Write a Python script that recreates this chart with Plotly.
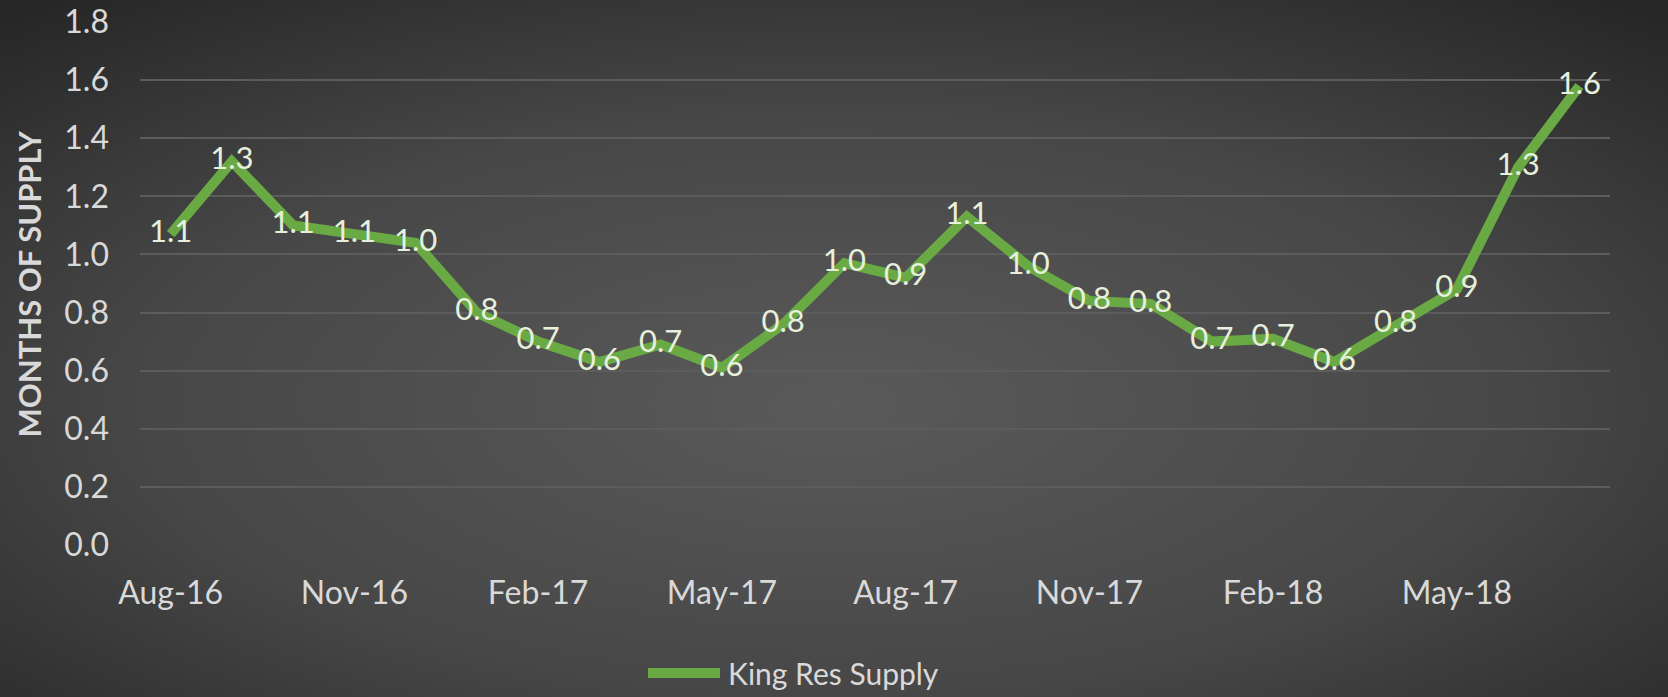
import plotly.graph_objects as go
import base64

months = ["Aug-16","Sep-16","Oct-16","Nov-16","Dec-16","Jan-17","Feb-17","Mar-17","Apr-17",
          "May-17","Jun-17","Jul-17","Aug-17","Sep-17","Oct-17","Nov-17","Dec-17","Jan-18",
          "Feb-18","Mar-18","Apr-18","May-18","Jun-18","Jul-18"]
supply = [1.07,1.32,1.10,1.07,1.04,0.80,0.70,0.63,0.69,0.61,0.76,0.97,0.92,1.13,0.96,
          0.84,0.83,0.70,0.71,0.63,0.76,0.88,1.30,1.58]
labels = [f"{v:.1f}" for v in supply]
tick_labels = months[::3]
series_name = "King Res Supply"

svg = """<svg xmlns='http://www.w3.org/2000/svg' width='1668' height='697'>
<defs><radialGradient id='g' cx='50%' cy='58%' r='75%'>
<stop offset='0%' stop-color='#5a5a5a'/><stop offset='55%' stop-color='#474747'/>
<stop offset='100%' stop-color='#262626'/></radialGradient></defs>
<rect width='1668' height='697' fill='url(#g)'/></svg>"""
bg = "data:image/svg+xml;base64," + base64.b64encode(svg.encode()).decode()

FONT = "Lato"
TXT = "#d9d9d9"
GREEN = "#6aaa45"
PW, PH, L, T = 1470, 523, 140, 22

fig = go.Figure()
fig.add_trace(go.Scatter(
    x=months, y=supply, mode="lines+text", name=series_name,
    line=dict(color=GREEN, width=10),
    text=labels, textposition="middle center",
    textfont=dict(family=FONT, size=31, color="#e6f0dc"),
))

leg_y = (545 - 673) / PH
fig.update_layout(
    width=1668, height=697,
    margin=dict(l=L, r=58, t=T, b=152, autoexpand=False),
    paper_bgcolor="#3c3c3c", plot_bgcolor="rgba(0,0,0,0)",
    images=[dict(source=bg, xref="paper", yref="paper", x=-L/PW, y=1+T/PH,
                 sizex=1668/PW, sizey=697/PH, xanchor="left", yanchor="top",
                 sizing="stretch", layer="below")],
    showlegend=False,
    xaxis=dict(type="category", tickmode="array", tickvals=tick_labels, ticktext=tick_labels,
               range=[-0.5, len(months) - 0.5],
               showgrid=False, zeroline=False, showline=False, ticks="", automargin=False,
               tickfont=dict(family=FONT, size=32, color=TXT), ticklabelstandoff=26),
    yaxis=dict(range=[0, 1.8], dtick=0.2, tickformat=".1f", showgrid=True, automargin=False,
               gridcolor="#5c5c5c", gridwidth=2, zeroline=False, showline=False, ticks="",
               tickfont=dict(family=FONT, size=32, color=TXT), ticklabelstandoff=30),
    shapes=[dict(type="line", xref="paper", yref="paper", x0=(648-L)/PW, x1=(720-L)/PW,
                 y0=leg_y, y1=leg_y, line=dict(color=GREEN, width=10))],
    annotations=[
        dict(text="<b>MONTHS OF SUPPLY</b>", textangle=-90, xref="paper", yref="paper",
             x=-112/PW, y=0.5, xanchor="center", yanchor="middle", showarrow=False,
             font=dict(family=FONT, size=31, color=TXT)),
        dict(text=series_name, xref="paper", yref="paper", x=(726-L)/PW, y=leg_y,
             xanchor="left", yanchor="middle", showarrow=False,
             font=dict(family=FONT, size=30, color=TXT)),
    ],
)

fig.write_html("out.html", config={"displayModeBar": False},
               post_script=["document.body.style.margin='0';document.body.style.overflow='hidden';"])
